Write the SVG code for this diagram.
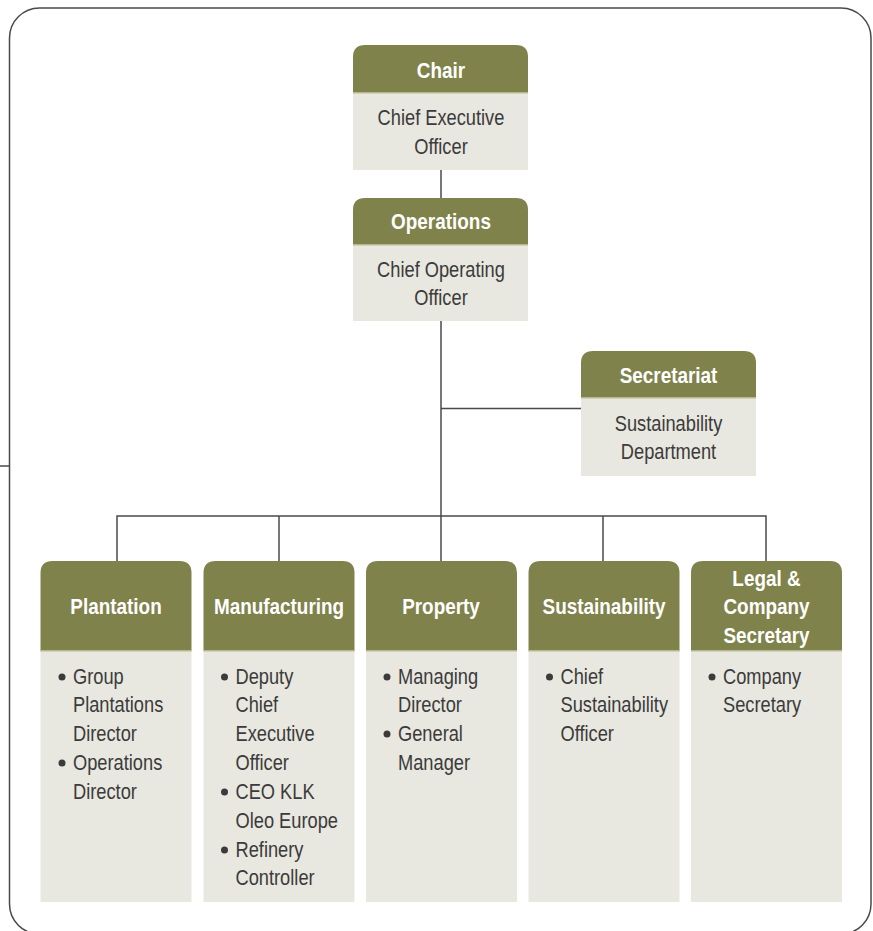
<svg xmlns="http://www.w3.org/2000/svg" width="873" height="931" viewBox="0 0 873 931">
<style>
.frame{fill:#fff;stroke:#4a4a4a;stroke-width:1.5}
.hd{fill:#80824b}
.bd{fill:#e8e7e0}
.sep{stroke:#c9caa9;stroke-width:1.5}
.ht{font-family:"Liberation Sans",Arial,sans-serif;font-weight:bold;font-size:22px;fill:#fff;text-anchor:middle}
.bt{font-family:"Liberation Sans",Arial,sans-serif;font-size:22px;fill:#3b3b3b;text-anchor:middle}
.lt{font-family:"Liberation Sans",Arial,sans-serif;font-size:22px;fill:#3b3b3b}
.con{stroke:#4a4a4a;stroke-width:1.5;fill:none}
.dot{fill:#3b3b3b}
</style>
<rect class="frame" x="9.5" y="8" width="861.5" height="926" rx="30" ry="30"/>
<line class="con" x1="0" y1="466" x2="9.5" y2="466"/>
<g id="connectors">
<line class="con" x1="441" y1="170" x2="441" y2="198"/>
<line class="con" x1="441" y1="321" x2="441" y2="562"/>
<line class="con" x1="441" y1="408.5" x2="581" y2="408.5"/>
<polyline class="con" points="117,562 117,516 766,516 766,562"/>
<line class="con" x1="279" y1="516" x2="279" y2="562"/>
<line class="con" x1="603" y1="516" x2="603" y2="562"/>
</g>
<g id="chair">
<path class="hd" d="M353,93 V57 Q353,45 365,45 H516 Q528,45 528,57 V93 Z"/>
<rect class="bd" x="353" y="93" width="175" height="77"/>
<line class="sep" x1="353" y1="93" x2="528" y2="93"/>
<g transform="translate(441,0) scale(0.86,1)"><text class="ht" x="0" y="78">Chair</text></g>
<g transform="translate(441,0) scale(0.83,1)">
<text class="bt" x="0" y="125">Chief Executive</text>
<text class="bt" x="0" y="154">Officer</text>
</g>
</g>
<g id="operations">
<path class="hd" d="M353,245 V210 Q353,198 365,198 H516 Q528,198 528,210 V245 Z"/>
<rect class="bd" x="353" y="245" width="175" height="76"/>
<line class="sep" x1="353" y1="245" x2="528" y2="245"/>
<g transform="translate(441,0) scale(0.86,1)"><text class="ht" x="0" y="229">Operations</text></g>
<g transform="translate(441,0) scale(0.83,1)">
<text class="bt" x="0" y="277">Chief Operating</text>
<text class="bt" x="0" y="305">Officer</text>
</g>
</g>
<g id="secretariat">
<path class="hd" d="M581,398 V363 Q581,351 593,351 H744 Q756,351 756,363 V398 Z"/>
<rect class="bd" x="581" y="398" width="175" height="78"/>
<line class="sep" x1="581" y1="398" x2="756" y2="398"/>
<g transform="translate(668.5,0) scale(0.86,1)"><text class="ht" x="0" y="383">Secretariat</text></g>
<g transform="translate(668.5,0) scale(0.83,1)">
<text class="bt" x="0" y="431">Sustainability</text>
<text class="bt" x="0" y="459">Department</text>
</g>
</g>
<g id="plantation">
<path class="hd" d="M40.5,651 V573 Q40.5,561 52.5,561 H179.5 Q191.5,561 191.5,573 V651 Z"/>
<rect class="bd" x="40.5" y="651" width="151" height="251"/>
<line class="sep" x1="40.5" y1="651" x2="191.5" y2="651"/>
<g transform="translate(116,0) scale(0.86,1)"><text class="ht" x="0" y="614">Plantation</text></g>
<circle class="dot" cx="62" cy="677" r="3.5"/>
<circle class="dot" cx="62" cy="763" r="3.5"/>
<g transform="translate(73,0) scale(0.83,1)">
<text class="lt" x="0" y="684">Group</text>
<text class="lt" x="0" y="712">Plantations</text>
<text class="lt" x="0" y="741">Director</text>
<text class="lt" x="0" y="770">Operations</text>
<text class="lt" x="0" y="799">Director</text>
</g>
</g>
<g id="manufacturing">
<path class="hd" d="M203.5,651 V573 Q203.5,561 215.5,561 H342.5 Q354.5,561 354.5,573 V651 Z"/>
<rect class="bd" x="203.5" y="651" width="151" height="251"/>
<line class="sep" x1="203.5" y1="651" x2="354.5" y2="651"/>
<g transform="translate(279,0) scale(0.86,1)"><text class="ht" x="0" y="614">Manufacturing</text></g>
<circle class="dot" cx="224.5" cy="677" r="3.5"/>
<circle class="dot" cx="224.5" cy="792" r="3.5"/>
<circle class="dot" cx="224.5" cy="850" r="3.5"/>
<g transform="translate(235.5,0) scale(0.83,1)">
<text class="lt" x="0" y="684">Deputy</text>
<text class="lt" x="0" y="712">Chief</text>
<text class="lt" x="0" y="741">Executive</text>
<text class="lt" x="0" y="770">Officer</text>
<text class="lt" x="0" y="799">CEO KLK</text>
<text class="lt" x="0" y="828">Oleo Europe</text>
<text class="lt" x="0" y="857">Refinery</text>
<text class="lt" x="0" y="885">Controller</text>
</g>
</g>
<g id="property">
<path class="hd" d="M366,651 V573 Q366,561 378,561 H505 Q517,561 517,573 V651 Z"/>
<rect class="bd" x="366" y="651" width="151" height="251"/>
<line class="sep" x1="366" y1="651" x2="517" y2="651"/>
<g transform="translate(441,0) scale(0.86,1)"><text class="ht" x="0" y="614">Property</text></g>
<circle class="dot" cx="387" cy="677" r="3.5"/>
<circle class="dot" cx="387" cy="734" r="3.5"/>
<g transform="translate(398,0) scale(0.83,1)">
<text class="lt" x="0" y="684">Managing</text>
<text class="lt" x="0" y="712">Director</text>
<text class="lt" x="0" y="741">General</text>
<text class="lt" x="0" y="770">Manager</text>
</g>
</g>
<g id="sustainability">
<path class="hd" d="M528.5,651 V573 Q528.5,561 540.5,561 H667.5 Q679.5,561 679.5,573 V651 Z"/>
<rect class="bd" x="528.5" y="651" width="151" height="251"/>
<line class="sep" x1="528.5" y1="651" x2="679.5" y2="651"/>
<g transform="translate(604,0) scale(0.86,1)"><text class="ht" x="0" y="614">Sustainability</text></g>
<circle class="dot" cx="549.5" cy="677" r="3.5"/>
<g transform="translate(560.5,0) scale(0.83,1)">
<text class="lt" x="0" y="684">Chief</text>
<text class="lt" x="0" y="712">Sustainability</text>
<text class="lt" x="0" y="741">Officer</text>
</g>
</g>
<g id="legal">
<path class="hd" d="M691,651 V573 Q691,561 703,561 H830 Q842,561 842,573 V651 Z"/>
<rect class="bd" x="691" y="651" width="151" height="251"/>
<line class="sep" x1="691" y1="651" x2="842" y2="651"/>
<g transform="translate(766.5,0) scale(0.86,1)">
<text class="ht" x="0" y="586">Legal &amp;</text>
<text class="ht" x="0" y="614">Company</text>
<text class="ht" x="0" y="643">Secretary</text>
</g>
<circle class="dot" cx="712" cy="677" r="3.5"/>
<g transform="translate(723,0) scale(0.83,1)">
<text class="lt" x="0" y="684">Company</text>
<text class="lt" x="0" y="712">Secretary</text>
</g>
</g>
</svg>
